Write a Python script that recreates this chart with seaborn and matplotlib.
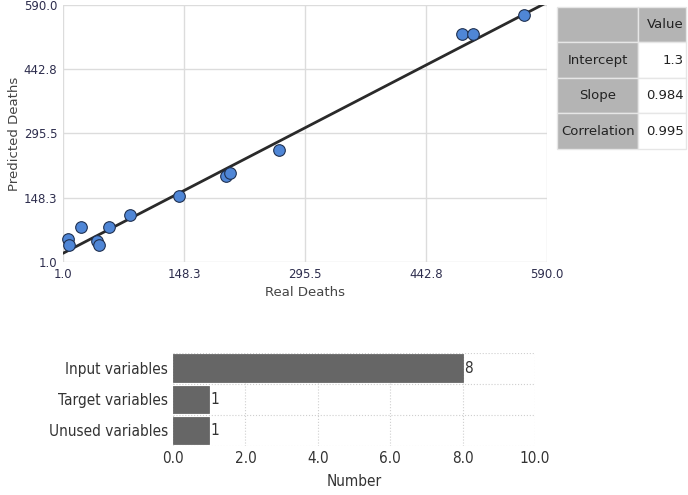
import numpy as np
import pandas as pd
import seaborn as sns
import matplotlib.pyplot as plt

# scatter: real vs predicted deaths
real_deaths = [6.7, 7.9, 23.3, 42.8, 44.8, 57.3, 82.5, 142.5, 199.0, 204.0, 263.5, 486.0, 499.6, 561.7]
pred_deaths = [53, 40, 82, 50, 40, 82, 109, 152, 198, 204, 258, 523, 524, 568]
axis_ticks = [1.0, 148.3, 295.5, 442.8, 590.0]

# fitted line as drawn
line_intercept = 20.0
line_slope = 0.976

# table
table_rows = ["Intercept", "Slope", "Correlation"]
table_values = ["1.3", "0.984", "0.995"]

# bar chart
var_types = ["Input variables", "Target variables", "Unused variables"]
var_counts = [8, 1, 1]
bar_ticks = [0.0, 2.0, 4.0, 6.0, 8.0, 10.0]

NARROW = dict(family="DejaVu Sans", stretch="condensed")


def main():
    sns.set_style("white")
    plt.rcParams["font.family"] = ["DejaVu Sans"]

    fig = plt.figure(figsize=(6.88, 4.95), dpi=100)

    # ---- scatter ----
    ax = fig.add_axes([0.0916, 0.4707, 0.7034, 0.5193])
    df = pd.DataFrame({"real": real_deaths, "pred": pred_deaths})
    xs = np.array([1.0, 590.0])
    ax.plot(xs, line_intercept + line_slope * xs, color="#2a2a2a", lw=2, zorder=3)
    sns.scatterplot(data=df, x="real", y="pred", ax=ax, s=70, color="#4f86d6",
                    edgecolor="#1f3050", linewidth=0.8, zorder=4, clip_on=False)
    ax.set_xlim(1.0, 590.0)
    ax.set_ylim(1.0, 590.0)
    ax.set_xticks(axis_ticks)
    ax.set_yticks(axis_ticks)
    ax.set_xticklabels([f"{t:.1f}" for t in axis_ticks])
    ax.set_yticklabels([f"{t:.1f}" for t in axis_ticks])
    ax.grid(True, color="#dcdcdc", lw=1)
    ax.set_axisbelow(True)
    for s in ax.spines.values():
        s.set_visible(False)
    ax.tick_params(axis="both", labelsize=8.5, labelcolor="#2d2d4d", length=0, pad=4)
    ax.set_xlabel("Real Deaths", fontsize=9.5, color="#444444", labelpad=4)
    ax.set_ylabel("Predicted Deaths", fontsize=9.5, color="#444444", labelpad=2)

    # ---- table ----
    tab = fig.add_axes([0.8096, 0.6990, 0.1875, 0.2869])
    tab.set_axis_off()
    cells = [["", "Value"]] + [[r, v] for r, v in zip(table_rows, table_values)]
    colors = [["#b4b4b4", "#b4b4b4"]] + [["#b4b4b4", "white"]] * len(table_rows)
    t = tab.table(cellText=cells, cellColours=colors, bbox=[0, 0, 1, 1],
                  colWidths=[0.63, 0.37])
    t.auto_set_font_size(False)
    for (r, c), cell in t.get_celld().items():
        cell.set_edgecolor("#e6e6e6")
        cell.set_linewidth(1)
        txt = cell.get_text()
        txt.set_fontsize(9.5)
        txt.set_color("#222222")
        if c == 1:
            cell._loc = "right"
            cell.PAD = 0.04
            txt.set_ha("right")
        else:
            cell._loc = "center"
            txt.set_ha("center")

    # ---- bar chart ----
    bx = fig.add_axes([0.2515, 0.099, 0.5261, 0.188])
    bdf = pd.DataFrame({"type": var_types, "count": var_counts})
    sns.barplot(data=bdf, x="count", y="type", ax=bx, color="#666666",
                width=0.9, saturation=1, edgecolor="#5a5a5a", linewidth=0.5)
    for i, v in enumerate(var_counts):
        bx.text(v + 0.04, i, str(v), va="center", ha="left", fontsize=11,
                color="#333333", **NARROW)
    bx.set_xlim(0, 10)
    bx.set_ylim(2.5, -0.5)
    bx.set_xticks(bar_ticks)
    bx.set_xticklabels([f"{t:.1f}" for t in bar_ticks])
    bx.set_yticks([-0.5, 0.5, 1.5, 2.5], minor=True)
    bx.grid(True, axis="x", which="major", color="#cfcfcf", lw=0.8, ls=":")
    bx.grid(True, axis="y", which="minor", color="#cfcfcf", lw=0.8, ls=":")
    bx.grid(False, axis="y", which="major")
    bx.set_axisbelow(True)
    for s in bx.spines.values():
        s.set_visible(False)
    bx.tick_params(axis="both", which="both", length=0, labelsize=11, labelcolor="#333333")
    for lab in bx.get_xticklabels() + bx.get_yticklabels():
        lab.set_fontstretch("condensed")
    bx.set_ylabel("")
    bx.set_xlabel("Number", fontsize=11, color="#333333", labelpad=6, **NARROW)

    fig.savefig("out.png", dpi=100)


if __name__ == "__main__":
    main()
